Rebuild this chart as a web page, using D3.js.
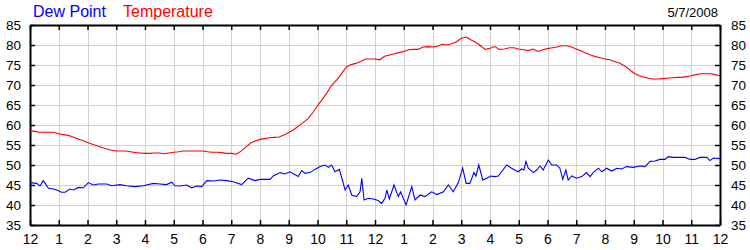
<!DOCTYPE html>
<html>
<head>
<meta charset="utf-8">
<script src="https://cdn.jsdelivr.net/npm/d3@7"></script>
<style>
  html, body { margin: 0; padding: 0; background: #fff; }
  svg { display: block; font-family: "Liberation Sans", Arial, sans-serif; }
</style>
</head>
<body>
<svg id="chart" width="750" height="250"></svg>
<script>
// ---- Data (hours since midnight, 5/7/2008) ----
const hourLabels = ["12","1","2","3","4","5","6","7","8","9","10","11","12","1","2","3","4","5","6","7","8","9","10","11","12"];
const yTicks = [35, 40, 45, 50, 55, 60, 65, 70, 75, 80, 85];
const titleDew = "Dew Point";
const titleTemp = "Temperature";
const dateLabel = "5/7/2008";

const tempHours = [
  0.00,0.17,0.33,0.50,0.67,0.83, 1.00,1.17,1.33,1.50,1.67,1.83, 2.00,2.17,2.33,2.50,2.67,2.83,
  3.00,3.17,3.33,3.50,3.67,3.83, 4.00,4.17,4.33,4.50,4.67,4.83, 5.00,5.17,5.33,5.50,5.67,5.83,
  6.00,6.17,6.33,6.50,6.67,6.83, 7.00,7.17,7.33,7.50,7.67,7.83, 8.00,8.17,8.33,8.50,8.67,8.83,
  9.00,9.17,9.33,9.50,9.67,9.83, 10.00,10.17,10.33,10.50,10.67,10.83, 11.00,11.17,11.33,11.50,11.67,11.83,
  12.00,12.17,12.33,12.50,12.67,12.83, 13.00,13.17,13.33,13.50,13.67,13.83, 14.00,14.17,14.33,14.50,14.67,14.83,
  15.00,15.17,15.33,15.50,15.67,15.83, 16.00,16.17,16.33,16.50,16.67,16.83, 17.00,17.17,17.33,17.50,17.67,17.83,
  18.00,18.17,18.33,18.50,18.67,18.83, 19.00,19.17,19.33,19.50,19.67,19.83, 20.00,20.17,20.33,20.50,20.67,20.83,
  21.00,21.17,21.33,21.50,21.67,21.83, 22.00,22.17,22.33,22.50,22.67,22.83, 23.00,23.17,23.33,23.50,23.67,23.83,
  24.00
];
const tempValues = [
  58.6,58.4,58.2,58.2,58.2,58.2, 57.8,57.6,57.4,57.0,56.5,56.1, 55.6,55.2,54.8,54.4,54.0,53.7,
  53.5,53.5,53.5,53.3,53.1,53.0, 52.9,52.9,53.0,53.0,52.8,53.0, 53.2,53.3,53.5,53.5,53.5,53.5,
  53.5,53.3,53.2,53.2,53.1,52.9, 52.9,52.7,53.4,54.4,55.5,56.0, 56.4,56.6,56.8,56.9,57.0,57.5,
  58.1,58.8,59.7,60.6,61.6,63.0, 64.8,66.4,68.1,70.0,71.3,72.8, 74.5,75.1,75.4,75.9,76.5,76.5,
  76.5,76.3,77.2,77.5,77.8,78.1, 78.4,78.8,78.9,78.9,79.5,79.6, 79.5,79.7,80.2,80.0,80.3,80.8,
  81.7,82.0,81.3,80.7,79.8,78.9, 79.2,79.6,78.9,79.0,79.3,79.3, 79.0,78.8,78.6,79.0,78.4,78.8,
  79.1,79.3,79.5,79.8,79.8,79.5, 79.0,78.5,78.0,77.5,77.1,76.8, 76.5,76.3,75.9,75.5,74.8,74.0,
  73.0,72.4,72.0,71.7,71.5,71.5, 71.6,71.7,71.8,71.9,71.9,72.1, 72.3,72.6,72.8,72.8,72.8,72.6,
  72.3
];

const dewHours = [
  0.00,0.23,0.35,0.46,0.64,0.81,0.93,1.10,1.22,1.39,1.51,1.68,1.85,2.03,2.20,2.38,2.67,2.84,
  3.13,3.36,3.65,3.94,4.29,4.52,4.75,4.93,5.04,5.22,5.45,5.62,5.80,5.97,6.15,6.38,6.61,6.84,
  7.07,7.36,7.59,7.83,8.00,8.35,8.46,8.70,8.87,9.04,9.33,9.45,9.57,9.74,9.91,10.09,10.26,10.38,
  10.49,10.61,10.76,10.96,11.07,11.19,11.36,11.48,11.54,11.62,11.77,11.94,12.11,12.23,12.35,12.41,
  12.50,12.66,12.81,12.89,13.08,13.28,13.39,13.57,13.74,13.97,14.15,14.38,14.55,14.72,14.90,15.05,
  15.17,15.30,15.44,15.51,15.61,15.75,15.89,16.02,16.17,16.29,16.58,16.75,16.98,17.10,17.18,17.25,
  17.33,17.51,17.62,17.74,17.85,18.03,18.15,18.32,18.43,18.53,18.64,18.72,18.84,19.01,19.19,19.36,
  19.48,19.59,19.77,19.89,20.06,20.23,20.41,20.58,20.75,20.98,21.22,21.39,21.57,21.74,21.91,22.09,
  22.20,22.38,22.61,22.78,22.96,23.13,23.30,23.54,23.65,23.77,24.00
];
const dewValues = [
  45.6,45.4,44.75,46.1,44.2,44.0,43.75,43.2,43.2,44.0,43.75,44.4,44.3,45.6,45.0,45.25,45.25,44.8,
  45.1,44.8,44.6,44.8,45.4,45.25,45.1,45.7,44.8,44.75,45.0,44.3,44.75,44.6,46.1,46.0,46.25,46.1,
  45.8,45.1,46.7,46.1,46.4,46.4,47.25,48.1,47.75,48.3,47.1,48.6,47.9,48.1,48.9,49.6,50.0,49.4,
  50.0,48.3,48.9,43.75,45.0,42.5,42.1,43.3,46.7,41.25,41.7,41.5,41.1,40.4,41.7,43.75,
  41.5,45.0,42.1,43.3,40.0,44.6,41.25,42.5,42.1,43.3,42.6,43.3,45.0,43.3,45.6,49.2,
  45.4,45.4,48.1,47.25,50.0,46.25,46.7,47.25,47.1,47.25,50.0,49.2,48.3,49.0,48.75,50.9,
  49.2,48.1,48.75,49.75,48.75,51.25,50.0,50.0,49.2,46.4,48.75,46.25,47.25,46.7,47.1,48.1,
  47.1,48.1,49.2,48.3,49.2,48.5,49.2,49.0,49.6,49.4,49.75,49.6,50.9,51.0,51.4,51.4,
  52.1,51.9,51.9,51.9,51.4,51.4,51.9,51.9,51.1,51.75,51.6
];

// ---- Layout ----
const svg = d3.select("#chart");
const plotL = 30, plotR = 720, plotT = 25, plotB = 225;

const x = d3.scaleLinear().domain([0, 24]).range([plotL, plotR]);
const y = d3.scaleLinear().domain([35, 85]).range([plotB, plotT]);
const hourTicks = d3.range(0, 25);

// gridlines
const grid = svg.append("g").attr("stroke", "#d0d0d0").attr("stroke-width", 1).attr("shape-rendering", "crispEdges");
grid.selectAll(".vg").data(hourTicks.slice(1, -1)).enter().append("line")
  .attr("x1", d => Math.round(x(d)) + 0.5).attr("x2", d => Math.round(x(d)) + 0.5)
  .attr("y1", plotT).attr("y2", plotB);
grid.selectAll(".hg").data(yTicks.slice(1, -1)).enter().append("line")
  .attr("x1", plotL).attr("x2", plotR)
  .attr("y1", d => y(d) + 0.5).attr("y2", d => y(d) + 0.5);

// axes
const axisBottom = d3.axisBottom(x).tickValues(hourTicks).tickFormat((d, i) => hourLabels[i]).tickSizeInner(-5).tickSizeOuter(0).tickPadding(9);
const axisTop = d3.axisTop(x).tickValues(hourTicks).tickFormat("").tickSizeInner(-5).tickSizeOuter(0);
const axisLeft = d3.axisLeft(y).tickValues(yTicks).tickSizeInner(-5).tickSizeOuter(0).tickPadding(9);
const axisRight = d3.axisRight(y).tickValues(yTicks).tickSizeInner(-5).tickSizeOuter(0).tickPadding(11);

function style(g, fs) {
  g.selectAll(".domain").attr("stroke", "#000").attr("stroke-width", 2);
  g.selectAll(".tick line").attr("stroke", "#000").attr("stroke-width", 1.5);
  g.selectAll("text").attr("fill", "#000").style("font-size", fs + "px")
    .style("font-family", "'Liberation Sans', Arial, sans-serif");
}
svg.append("g").attr("transform", `translate(0,${plotB})`).call(axisBottom).call(g => style(g, 14));
svg.append("g").attr("transform", `translate(0,${plotT})`).call(axisTop).call(g => style(g, 14));
svg.append("g").attr("transform", `translate(${plotL},0)`).call(axisLeft).call(g => style(g, 13.5));
svg.append("g").attr("transform", `translate(${plotR},0)`).call(axisRight).call(g => style(g, 13.5));

// lines
const tempData = tempHours.map((h, i) => [h, tempValues[i]]);
const dewData = dewHours.map((h, i) => [h, dewValues[i]]);
const line = d3.line().x(d => x(d[0])).y(d => y(d[1]));

svg.append("path").datum(tempData).attr("d", line)
  .attr("fill", "none").attr("stroke", "#ff0000").attr("stroke-width", 1.1);
svg.append("path").datum(dewData).attr("d", line)
  .attr("fill", "none").attr("stroke", "#0000ff").attr("stroke-width", 1.1);

// titles
svg.append("text").attr("x", 33).attr("y", 17).attr("fill", "#0000ff")
  .style("font-size", "16px").text(titleDew);
svg.append("text").attr("x", 123).attr("y", 17).attr("fill", "#ff0000")
  .style("font-size", "16px").text(titleTemp);
svg.append("text").attr("x", 718).attr("y", 17).attr("text-anchor", "end").attr("fill", "#000")
  .style("font-size", "13px").text(dateLabel);
</script>
</body>
</html>
